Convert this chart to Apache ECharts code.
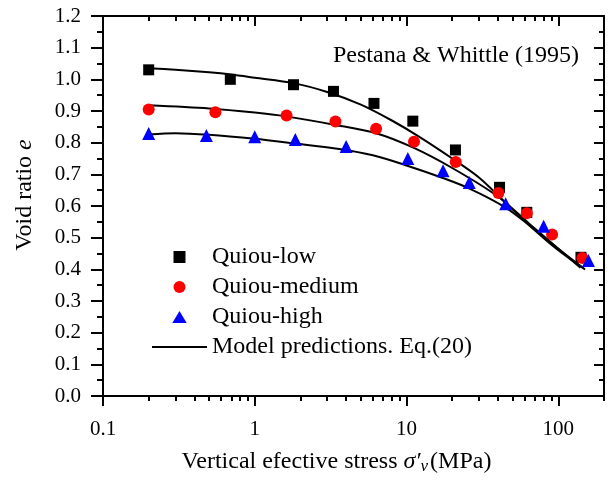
<!DOCTYPE html>
<html>
<head>
<meta charset="utf-8">
<script src="https://cdn.jsdelivr.net/npm/echarts@6/dist/echarts.min.js"></script>
<style>
  html, body { margin: 0; padding: 0; background: #fff; }
  #chart { width: 609px; height: 480px; }
</style>
</head>
<body>
<div id="chart"></div>
<script>
// Measured void ratio vs vertical effective stress (MPa)
const stressLow  = [0.2, 0.69, 1.8, 3.3, 6.1, 11, 21, 41, 62, 141];
const ratioLow   = [1.03, 1.00, 0.983, 0.962, 0.924, 0.868, 0.777, 0.659, 0.58, 0.438];
const stressMed  = [0.2, 0.55, 1.62, 3.4, 6.3, 11.2, 21.1, 40.3, 62, 91, 144];
const ratioMed   = [0.905, 0.896, 0.886, 0.867, 0.844, 0.803, 0.739, 0.641, 0.577, 0.51, 0.436];
const stressHigh = [0.2, 0.48, 1.0, 1.85, 4.0, 10.2, 17.4, 25.9, 45, 80, 158];
const ratioHigh  = [0.829, 0.823, 0.819, 0.81, 0.788, 0.75, 0.711, 0.674, 0.607, 0.536, 0.428];

// Model prediction curves (Eq. 20)
const modelStressLow  = [0.2, 0.3, 0.5, 0.7, 1, 1.8, 3, 5, 8, 12, 20, 30, 45, 64, 100, 150];
const modelRatioLow   = [1.035, 1.03, 1.022, 1.015, 1.005, 0.988, 0.96, 0.92, 0.87, 0.82, 0.75, 0.69, 0.61, 0.54, 0.46, 0.40];
const modelStressMed  = [0.2, 0.5, 1, 1.6, 3.4, 6.3, 11, 20, 40, 64, 100, 140];
const modelRatioMed   = [0.918, 0.908, 0.895, 0.883, 0.856, 0.83, 0.785, 0.72, 0.63, 0.545, 0.465, 0.405];
const modelStressHigh = [0.2, 0.3, 0.5, 1, 1.85, 3.6, 6, 10, 17, 26, 45, 64, 100, 145];
const modelRatioHigh  = [0.826, 0.83, 0.825, 0.812, 0.797, 0.78, 0.76, 0.728, 0.69, 0.655, 0.595, 0.54, 0.465, 0.405];

// Axis ticks
const majorStress = [0.1, 1, 10, 100];
const minorStress = [0.2, 0.3, 0.4, 0.5, 0.6, 0.7, 0.8, 0.9,
                     2, 3, 4, 5, 6, 7, 8, 9,
                     20, 30, 40, 50, 60, 70, 80, 90, 200];

const FONT = '"Liberation Serif", "Times New Roman", serif';
const zip = (xs, ys) => xs.map((x, i) => [x, ys[i]]);
const MODEL = 'Model predictions. Eq.(20)';

function xAxisDef(pos, values, len, inside, withLabels, withLine) {
  return {
    type: 'log', position: pos, min: 0.1, max: 200, logBase: 10,
    axisLine: { show: withLine, onZero: false, lineStyle: { color: '#000', width: 2 } },
    axisTick: { show: true, inside: inside, length: len, customValues: values,
                lineStyle: { color: '#000', width: 2 } },
    axisLabel: withLabels
      ? { show: true, customValues: majorStress, margin: 23, color: '#000',
          fontFamily: FONT, fontSize: 21,
          formatter: v => (v < 1 ? v.toFixed(1) : String(Math.round(v))) }
      : { show: false },
    splitLine: { show: false }, minorSplitLine: { show: false }
  };
}

const chart = echarts.init(document.getElementById('chart'), null, { renderer: 'canvas' });

const bottom = xAxisDef('bottom', majorStress, 10, false, true, true);
bottom.name = 'Vertical efective stress {i|σ′}{s|ν}(MPa)';
bottom.nameLocation = 'middle';
bottom.nameGap = 52;
bottom.nameTextStyle = {
  fontFamily: FONT, fontSize: 24, color: '#000', padding: [0, 34, 0, 0],
  rich: {
    i: { fontFamily: FONT, fontSize: 24, fontStyle: 'italic', color: '#000' },
    s: { fontFamily: FONT, fontSize: 17, fontStyle: 'italic', color: '#000', padding: [10, 2, 0, 0] }
  }
};

chart.setOption({
  animation: false,
  backgroundColor: '#fff',
  grid: { left: 103, right: 5, top: 16, bottom: 82, containLabel: false },
  title: {
    text: 'Pestana & Whittle (1995)',
    left: 333, top: 44, padding: 0,
    textStyle: { fontFamily: FONT, fontSize: 24, fontWeight: 'normal', color: '#000' }
  },
  legend: {
    orient: 'vertical', left: 152, top: 242, padding: 0,
    itemWidth: 55, itemHeight: 12, itemGap: 0, symbolKeepAspect: true,
    textStyle: { fontFamily: FONT, fontSize: 24, color: '#000', lineHeight: 30 },
    data: [
      { name: 'Quiou-low', icon: 'path://M0,0L10,0L10,10L0,10Z' },
      { name: 'Quiou-medium', icon: 'circle' },
      { name: 'Quiou-high', icon: 'path://M6,0L12,10L0,10Z' },
      { name: MODEL, icon: 'path://M0,0L40,0L40,1.6L0,1.6Z' }
    ]
  },
  xAxis: [
    bottom,
    xAxisDef('bottom', minorStress, 5, false, false, false),
    xAxisDef('top', majorStress, 10, true, false, true),
    xAxisDef('top', minorStress, 5, true, false, false)
  ],
  yAxis: [
    {
      type: 'value', position: 'left', min: 0, max: 1.2, interval: 0.1,
      name: 'Void ratio {i|e}', nameLocation: 'middle', nameGap: 66,
      nameTextStyle: {
        fontFamily: FONT, fontSize: 24, color: '#000', padding: [0, 0, 0, 22],
        rich: { i: { fontFamily: FONT, fontSize: 24, fontStyle: 'italic', color: '#000' } }
      },
      axisLine: { show: true, lineStyle: { color: '#000', width: 2 } },
      axisTick: { show: true, inside: false, length: 12, lineStyle: { color: '#000', width: 2 } },
      minorTick: { show: true, splitNumber: 2, length: 6, lineStyle: { color: '#000', width: 2 } },
      axisLabel: { margin: 22, color: '#000', fontFamily: FONT, fontSize: 21, formatter: v => v.toFixed(1) },
      splitLine: { show: false }
    },
    {
      type: 'value', position: 'right', min: 0, max: 1.2, interval: 0.1,
      axisLine: { show: true, lineStyle: { color: '#000', width: 2 } },
      axisTick: { show: true, inside: true, length: 10, lineStyle: { color: '#000', width: 2 } },
      minorTick: { show: true, splitNumber: 2, length: 5, lineStyle: { color: '#000', width: 2 } },
      axisLabel: { show: false },
      splitLine: { show: false }
    }
  ],
  series: [
    { name: MODEL, type: 'line', data: zip(modelStressLow, modelRatioLow), smooth: 0.3,
      symbol: 'none', color: '#000', itemStyle: { color: '#000' }, lineStyle: { color: '#000', width: 2 }, z: 2 },
    { name: MODEL, type: 'line', data: zip(modelStressMed, modelRatioMed), smooth: 0.3,
      symbol: 'none', color: '#000', itemStyle: { color: '#000' }, lineStyle: { color: '#000', width: 2 }, z: 2 },
    { name: MODEL, type: 'line', data: zip(modelStressHigh, modelRatioHigh), smooth: 0.3,
      symbol: 'none', color: '#000', itemStyle: { color: '#000' }, lineStyle: { color: '#000', width: 2 }, z: 2 },
    { name: 'Quiou-low', type: 'scatter', data: zip(stressLow, ratioLow),
      symbol: 'rect', symbolSize: 11, itemStyle: { color: '#000', opacity: 1 }, z: 3 },
    { name: 'Quiou-medium', type: 'scatter', data: zip(stressMed, ratioMed),
      symbol: 'circle', symbolSize: 12, itemStyle: { color: '#ff0000', opacity: 1 }, z: 4 },
    { name: 'Quiou-high', type: 'scatter', data: zip(stressHigh, ratioHigh),
      symbol: 'triangle', symbolSize: 13, itemStyle: { color: '#0000ff', opacity: 1 }, z: 5 }
  ]
});
</script>
</body>
</html>
